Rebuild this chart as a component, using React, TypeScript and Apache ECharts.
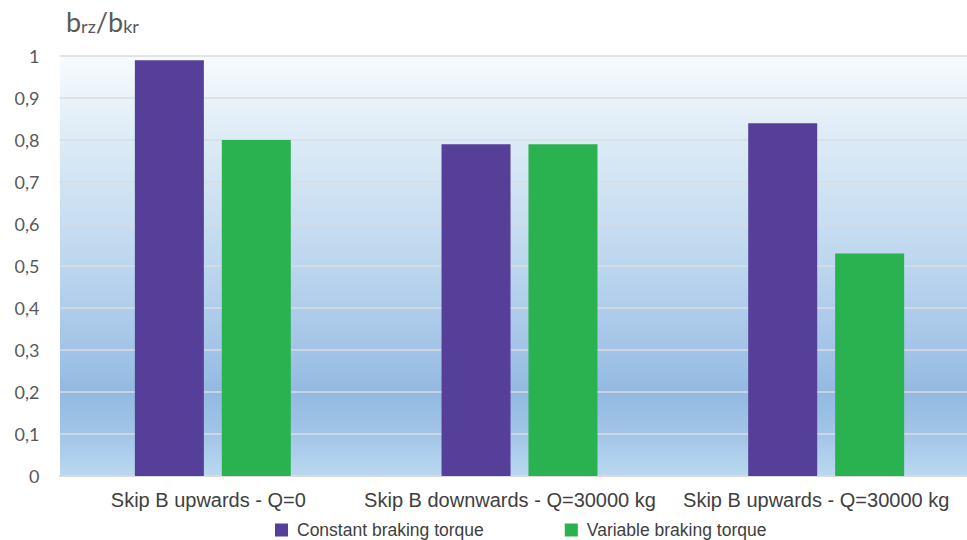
import React, { useEffect, useRef } from "react";
import * as echarts from "echarts";

const categories = [
  "Skip B upwards - Q=0",
  "Skip B downwards - Q=30000 kg",
  "Skip B upwards - Q=30000 kg",
];
const constantTorque = [0.99, 0.79, 0.84];
const variableTorque = [0.8, 0.79, 0.53];
const seriesNames = ["Constant braking torque", "Variable braking torque"];

const SANS = "Liberation Sans";

// Category labels sit a little left of their bar pair, more so towards the right edge.
const labelRich = {
  c0: { padding: [0, 9, 0, 0] },
  c1: { padding: [0, 19, 0, 0] },
  c2: { padding: [0, 20, 0, 0] },
};

export default function App() {
  const ref = useRef<HTMLDivElement>(null);

  useEffect(() => {
    if (!ref.current) return;
    const chart = echarts.init(ref.current, null, { renderer: "svg" });
    chart.setOption({
      animation: false,
      graphic: [
        {
          type: "rect",
          shape: { x: 60, y: 56, width: 925, height: 420 },
          z: -10,
          style: {
            fill: new echarts.graphic.LinearGradient(0, 0, 0, 1, [
              { offset: 0, color: "#f8fbfe" },
              { offset: 0.2, color: "#dcebf6" },
              { offset: 0.5, color: "#bcd6ee" },
              { offset: 0.7, color: "#a3c4e7" },
              { offset: 0.8, color: "#93b9e1" },
              { offset: 0.9, color: "#a2c5e7" },
              { offset: 1, color: "#bad8ef" },
            ]),
          },
        },
        {
          type: "text",
          left: 66,
          top: 8,
          style: {
            text: "{b|b}{s|rz}{b|/b}{s|kr}",
            rich: {
              b: { fontSize: 27, fill: "#595959", fontFamily: "Lato", verticalAlign: "bottom", lineHeight: 34 },
              s: { fontSize: 18, fill: "#595959", fontFamily: "Lato", verticalAlign: "bottom", lineHeight: 26 },
            },
          },
        },
      ],
      grid: { left: 59.5, width: 920, top: 56, height: 420, containLabel: false },
      legend: {
        top: 516,
        left: 270,
        itemWidth: 13,
        itemHeight: 13,
        itemGap: 81,
        icon: "rect",
        textStyle: { fontFamily: SANS, fontSize: 17.5, color: "#404040", padding: [0, 0, 0, 4] },
        data: seriesNames,
      },
      xAxis: {
        type: "category",
        data: categories,
        axisLine: { show: true, lineStyle: { color: "#d9d9d9", width: 1.5 } },
        axisTick: { show: false },
        axisLabel: {
          interval: 0,
          fontFamily: SANS,
          fontSize: 20,
          color: "#404040",
          margin: 14,
          formatter: (v: string, i: number) => `{c${i}|${v}}`,
          rich: labelRich,
        },
      },
      yAxis: {
        type: "value",
        min: 0,
        max: 1,
        interval: 0.1,
        axisLine: { show: false },
        axisTick: { show: false },
        splitLine: { lineStyle: { color: "#d9dde2", width: 1.5 } },
        axisLabel: {
          fontFamily: "Lato",
          fontSize: 18,
          color: "#595959",
          margin: 20,
          formatter: (v: number) => (Math.round(v * 10) / 10).toString().replace(".", ","),
        },
      },
      series: [
        {
          name: seriesNames[0],
          type: "bar",
          data: constantTorque,
          barWidth: 69,
          barGap: "26%",
          itemStyle: { color: "#553f99" },
        },
        {
          name: seriesNames[1],
          type: "bar",
          data: variableTorque,
          barWidth: 69,
          barGap: "26%",
          itemStyle: { color: "#2ab150" },
        },
      ],
    });
    return () => chart.dispose();
  }, []);

  return (
    <div style={{ position: "fixed", left: 0, top: 0, width: 967, height: 540, overflow: "hidden", background: "#fff" }}>
      <div ref={ref} style={{ width: 985, height: 540 }} />
    </div>
  );
}
